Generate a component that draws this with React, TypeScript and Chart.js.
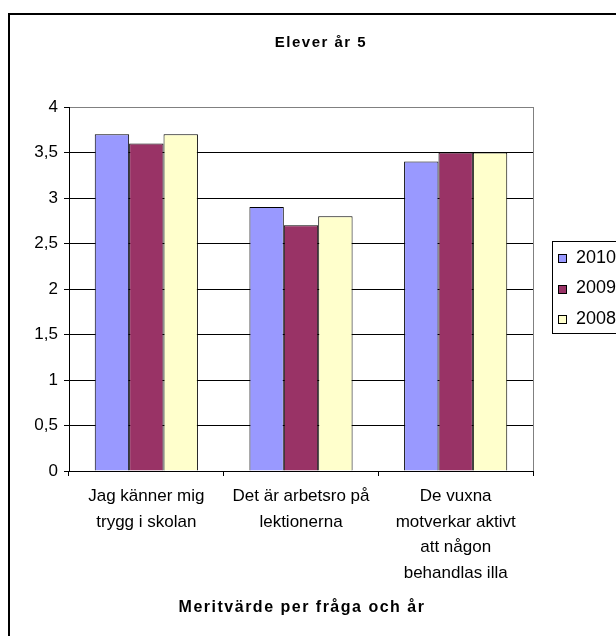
import React, { useEffect, useRef } from "react";
import { Chart, registerables } from "chart.js";

Chart.register(...registerables);

const chartTitle = "Elever år 5";
const axisTitle = "Meritvärde per fråga och år";
const categories: string[][] = [
  ["Jag känner mig", "trygg i skolan"],
  ["Det är arbetsro på", "lektionerna"],
  ["De vuxna", "motverkar aktivt", "att någon", "behandlas illa"],
];
const seriesNames = ["2010", "2009", "2008"];
const values2010 = [3.7, 2.9, 3.4];
const values2009 = [3.6, 2.7, 3.5];
const values2008 = [3.7, 2.8, 3.5];
const seriesColors = ["#9999FF", "#993366", "#FFFFCC"];
const yMin = 0;
const yMax = 4;
const yStep = 0.5;

const FONT = "Arial, 'Liberation Sans', sans-serif";

function setSpacing(ctx: any, v: string) {
  try {
    ctx.letterSpacing = v;
  } catch (e) {}
}

const framePlugin = {
  id: "excelFrame",
  beforeDraw(chart: any) {
    const { ctx, chartArea: a } = chart;
    ctx.save();
    ctx.fillStyle = "#fff";
    ctx.fillRect(0, 0, chart.width, chart.height);
    ctx.strokeStyle = "#000";
    ctx.lineWidth = 2;
    ctx.strokeRect(9, 14, chart.width + 40, chart.height + 40);
    ctx.strokeStyle = "#808080";
    ctx.lineWidth = 1;
    ctx.strokeRect(Math.round(a.left) + 0.5, Math.round(a.top) + 0.5, Math.round(a.right - a.left), Math.round(a.bottom - a.top));
    // chart title
    ctx.fillStyle = "#000";
    ctx.font = `bold 15px ${FONT}`;
    ctx.textAlign = "center";
    ctx.textBaseline = "middle";
    setSpacing(ctx, "1.5px");
    ctx.fillText(chartTitle, 321, 43);
    setSpacing(ctx, "0px");
    ctx.restore();
  },
  afterDraw(chart: any) {
    const { ctx, chartArea: a } = chart;
    const ds = chart.data.datasets;
    ctx.save();
    // axis title (letter-spaced like the original)
    ctx.fillStyle = "#000";
    ctx.font = `bold 16px ${FONT}`;
    ctx.textAlign = "center";
    ctx.textBaseline = "middle";
    setSpacing(ctx, "1.5px");
    ctx.fillText(axisTitle, (a.left + a.right) / 2 + 1, 608);
    setSpacing(ctx, "0px");
    // legend
    ctx.strokeStyle = "#000";
    ctx.lineWidth = 1;
    ctx.strokeRect(552.5, 241.5, 120, 92);
    ctx.font = `18px ${FONT}`;
    ctx.textBaseline = "middle";
    ctx.textAlign = "left";
    ds.forEach((d: any, i: number) => {
      const y = 258 + i * 30.5;
      const sy = Math.round(y - 4) + 0.5;
      ctx.fillStyle = d.backgroundColor;
      ctx.fillRect(558.5, sy, 8, 8);
      ctx.strokeRect(558.5, sy, 8, 8);
      ctx.fillStyle = "#000";
      ctx.fillText(d.label, 576, y);
    });
    ctx.restore();
  },
};

export default function App() {
  const ref = useRef<HTMLCanvasElement>(null);
  useEffect(() => {
    if (!ref.current) return;
    const seriesValues = [values2010, values2009, values2008];
    const chart = new Chart(ref.current, {
      type: "bar",
      data: {
        labels: categories,
        datasets: seriesNames.map((name, i) => ({
          label: name,
          data: seriesValues[i],
          backgroundColor: seriesColors[i],
          borderColor: "#000",
          borderWidth: 1,
          barPercentage: 1,
          categoryPercentage: 0.667,
        })),
      },
      options: {
        responsive: false,
        animation: false,
        devicePixelRatio: 1,
        layout: { padding: { left: 0, right: 83, top: 107, bottom: 0 } },
        plugins: {
          legend: { display: false },
          tooltip: { enabled: false },
          title: { display: false },
        },
        scales: {
          x: {
            offset: true,
            afterFit: (s: any) => {
              s.height = 165;
            },
            grid: {
              display: true,
              drawOnChartArea: false,
              drawTicks: true,
              tickLength: 5,
              tickColor: "#000",
              offset: true,
            },
            border: { display: true, color: "#000", width: 1 },
            ticks: {
              color: "#000",
              font: { family: FONT, size: 17, lineHeight: 1.5 },
              padding: 8,
              maxRotation: 0,
              autoSkip: false,
            },
            title: { display: false },
          },
          y: {
            min: yMin,
            max: yMax,
            afterFit: (s: any) => {
              s.width = 69;
            },
            grid: {
              color: (c: any) => (c.tick && c.tick.value === yMax ? "#808080" : "#000"),
              tickColor: "#000",
              tickLength: 5,
              lineWidth: 1,
            },
            border: { display: true, color: "#000", width: 1 },
            ticks: {
              stepSize: yStep,
              color: "#000",
              padding: 6,
              font: { family: FONT, size: 17 },
              callback: (v: any) => String(v).replace(".", ","),
            },
          },
        },
      },
      plugins: [framePlugin],
    } as any);
    return () => chart.destroy();
  }, []);
  return (
    <div style={{ position: "absolute", left: 0, top: 0, width: 616, height: 636, overflow: "hidden" }}>
      <canvas ref={ref} width={616} height={636} style={{ display: "block" }} />
    </div>
  );
}
